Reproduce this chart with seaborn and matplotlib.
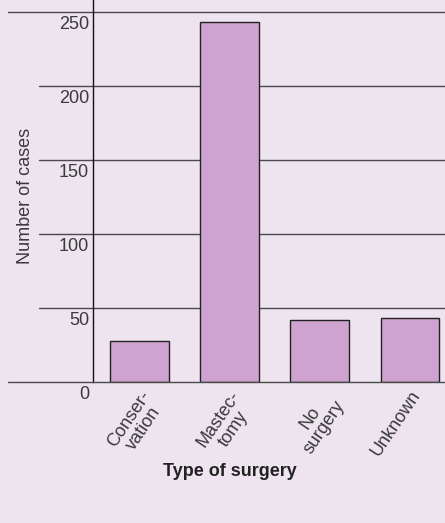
import matplotlib
matplotlib.use("Agg")
import matplotlib.pyplot as plt
import seaborn as sns
import pandas as pd

categories = ["Conser-\nvation", "Mastec-\ntomy", "No\nsurgery", "Unknown"]
counts = [28, 243, 42, 43]
yticks = [0, 50, 100, 150, 200, 250]

bg = "#ede4ef"
bar_color = "#cfa3cf"

sns.set_theme(style="white")
plt.rcParams["font.family"] = ["Liberation Sans", "DejaVu Sans"]

fig = plt.figure(figsize=(4.45, 5.23), dpi=100, facecolor=bg)
W, H = 445, 523
ax = fig.add_axes([93 / W, (H - 382) / H, (W - 93) / W, 382 / H])
ax.set_facecolor(bg)

df = pd.DataFrame({"cat": categories, "n": counts})
sns.barplot(data=df, x="cat", y="n", color=bar_color, width=0.65,
            edgecolor="#222222", linewidth=1.0, saturation=1, ax=ax, zorder=3)

ax.set_xlim(-0.517, 3.39)
ax.set_ylim(0, 258)
for s in ["top", "right", "bottom"]:
    ax.spines[s].set_visible(False)
ax.spines["left"].set_color("#111111")
ax.spines["left"].set_linewidth(1.0)
ax.set_yticks([])
ax.set_xticks([])
ax.set_xlabel("")
ax.set_ylabel("")

px = 3.907 / 352  # data units per pixel in x
for v in yticks:
    xmin = (8 - 93) / 352 if v in (0, 250) else (39 - 93) / 352
    ax.axhline(v, xmin=xmin, xmax=1, color="#4a4a4a", linewidth=1.0,
               clip_on=False, zorder=2 if v else 4)
    ax.text(-0.517 - 4 * px, v - 3, str(v), ha="right", va="top",
            fontsize=13, color="#3a3a3a", clip_on=False)

for i, lab in enumerate(categories):
    ax.text(i + 0.0, -4, lab, rotation=56, rotation_mode="anchor",
            ha="right", va="top", multialignment="center", linespacing=1.05,
            fontsize=13, color="#3a3a3a", clip_on=False)

fig.text(26 / W, 1 - 196 / H, "Number of cases", rotation=90, ha="center",
         va="center", fontsize=13, color="#3a3a3a")
fig.text(230 / W, 1 - 472 / H, "Type of surgery", ha="center", va="center",
         fontsize=13, fontweight="bold", color="#222222")

fig.savefig("out.png", dpi=100, facecolor=bg)
